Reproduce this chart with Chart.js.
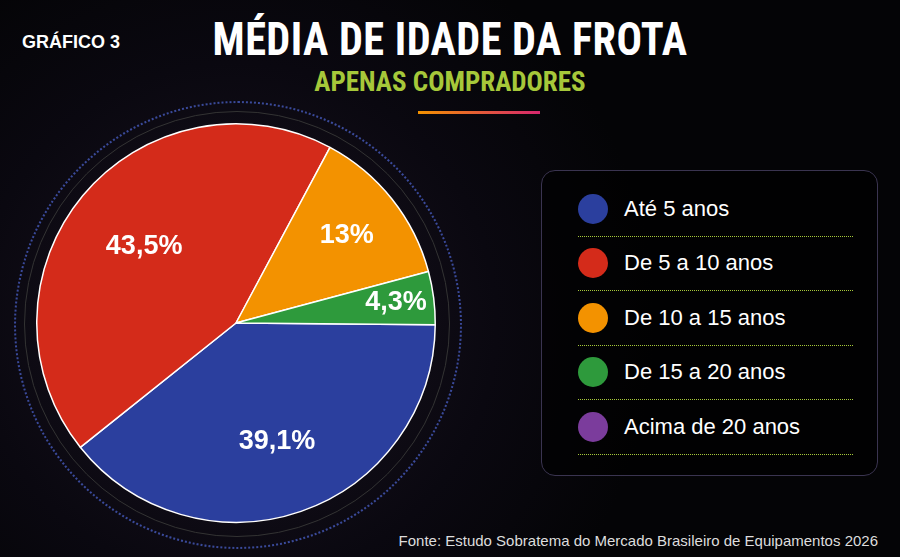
<!DOCTYPE html>
<html>
<head>
<meta charset="utf-8">
<script src="https://cdn.jsdelivr.net/npm/chart.js@4"></script>
<style>
  body { margin: 0; width: 900px; height: 557px; background: #050507; overflow: hidden; font-family: "Liberation Sans Narrow", "Roboto Condensed", "Liberation Sans", sans-serif; color: #fff; position: relative; }
  .bg { position: absolute; inset: 0; background: radial-gradient(circle at 236px 323px, #1a1420 0, #0a0810 260px, #040406 420px); }
  .ring { position: absolute; border-radius: 50%; }
  #tag { position: absolute; left: 22px; top: 32px; font: bold 18px "Liberation Sans", sans-serif; }
  #title { position: absolute; left: 0; right: 0; top: 12px; text-align: center; font-weight: bold; font-size: 46px; letter-spacing: 0.5px; transform: scaleX(0.92); }
  #sub { position: absolute; left: 0; right: 0; top: 66px; text-align: center; font-weight: bold; font-size: 27px; color: #a6c83a; }
  #bar { position: absolute; left: 418px; top: 111px; width: 122px; height: 3px; background: linear-gradient(90deg, #f39200, #d6266e); }
  #pieWrap { position: absolute; left: 34px; top: 121px; width: 404px; height: 404px; }
  #legend { position: absolute; left: 541px; top: 170px; width: 337px; height: 306px; border: 1.5px solid #3a3450; border-radius: 14px; background: rgba(0,0,0,0.6); box-sizing: border-box; padding: 11px 24px 0 36px; }
  .item { display: flex; align-items: center; height: 53.5px; border-bottom: 1.5px dotted #a6c83a; font: 22px "Liberation Sans Narrow", "Liberation Sans", sans-serif; }
  .dot { width: 30px; height: 30px; border-radius: 50%; margin-right: 16px; }
  #src { position: absolute; right: 22px; bottom: 8px; font: 15px "Liberation Sans Narrow", "Liberation Sans", sans-serif; color: #ddd; }
</style>
</head>
<body>
<div class="bg"></div>
<div class="ring" style="left:14px;top:101px;width:444px;height:444px;border:2px dotted #3a4a9a;"></div>
<div class="ring" style="left:24px;top:111px;width:424px;height:424px;border:1px solid #333;"></div>
<div id="tag">GRÁFICO 3</div>
<div id="title">MÉDIA DE IDADE DA FROTA</div>
<div id="sub">APENAS COMPRADORES</div>
<div id="bar"></div>
<div id="pieWrap"><canvas id="pie" width="404" height="404"></canvas></div>
<div id="legend"></div>
<div id="src">Fonte: Estudo Sobratema do Mercado Brasileiro de Equipamentos 2026</div>
<script>
const categories = ["Até 5 anos", "De 5 a 10 anos", "De 10 a 15 anos", "De 15 a 20 anos", "Acima de 20 anos"];
const values = [39.1, 43.5, 13, 4.3, 0];
const valueLabels = ["39,1%", "43,5%", "13%", "4,3%", ""];
const colors = ["#2b3f9e", "#d42b1a", "#f39200", "#2e9a3c", "#7b3c9c"];
const labelRadius = [0.63, 0.6, 0.71, 0.81, 0.8];

document.getElementById("legend").innerHTML = categories
  .map((c, i) => `<div class="item"><span class="dot" style="background:${colors[i]}"></span>${c}</div>`)
  .join("");

const sliceLabels = {
  id: "sliceLabels",
  afterDatasetsDraw(chart) {
    const ctx = chart.ctx;
    const meta = chart.getDatasetMeta(0);
    ctx.save();
    ctx.fillStyle = "#fff";
    ctx.font = 'bold 27px "Liberation Sans Narrow", "Liberation Sans", sans-serif';
    ctx.textAlign = "center";
    ctx.textBaseline = "middle";
    meta.data.forEach((arc, i) => {
      if (!valueLabels[i]) return;
      const a = (arc.startAngle + arc.endAngle) / 2;
      const r = arc.outerRadius * labelRadius[i];
      ctx.fillText(valueLabels[i], arc.x + Math.cos(a) * r, arc.y + Math.sin(a) * r);
    });
    ctx.restore();
  },
};

new Chart(document.getElementById("pie"), {
  type: "pie",
  data: {
    labels: categories,
    datasets: [{ data: values, backgroundColor: colors, borderColor: "#fff", borderWidth: 1.5 }],
  },
  options: {
    responsive: false,
    animation: false,
    rotation: 90.5,
    layout: { padding: 2 },
    plugins: { legend: { display: false }, tooltip: { enabled: false } },
  },
  plugins: [sliceLabels],
});
</script>
</body>
</html>
